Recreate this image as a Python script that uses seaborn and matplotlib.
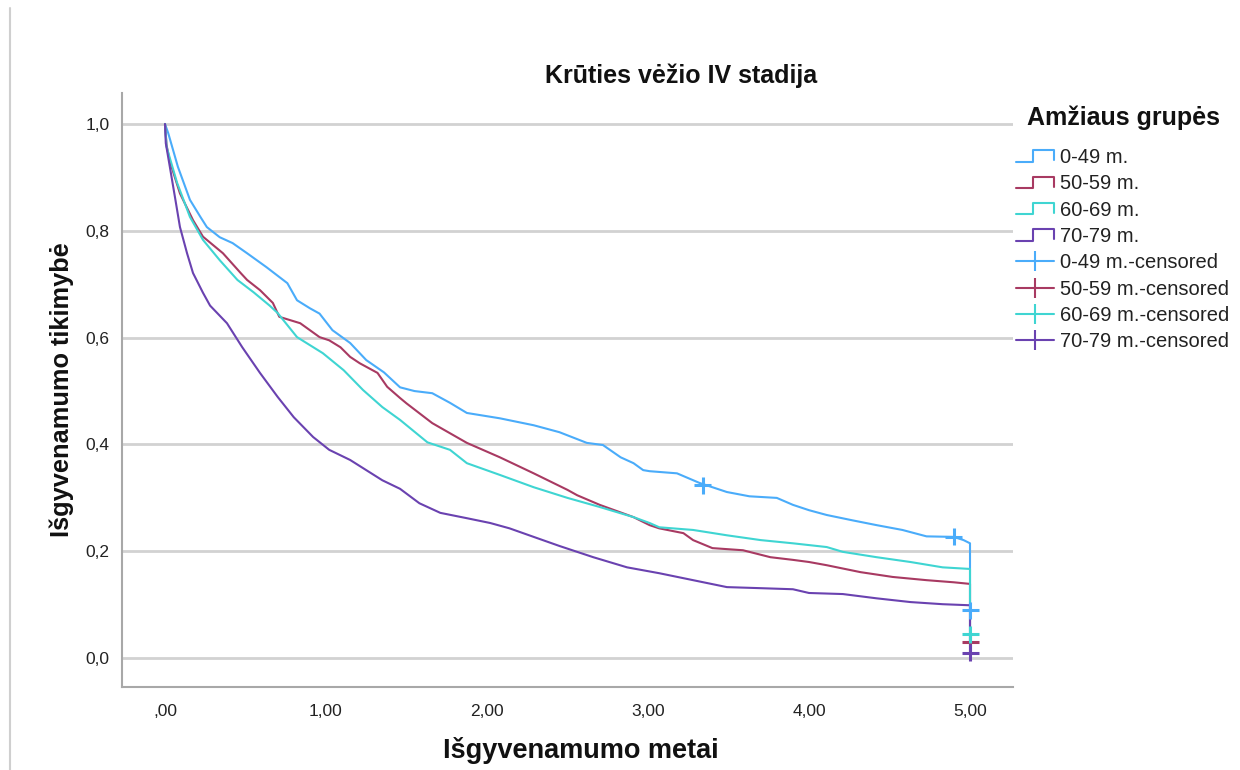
import matplotlib
matplotlib.use("Agg")
import matplotlib.pyplot as plt
import pandas as pd
import seaborn as sns
from matplotlib.lines import Line2D
from matplotlib.legend_handler import HandlerBase

# Kaplan-Meier survival estimates by age group (years, survival probability)
groups = ["0-49 m.", "50-59 m.", "60-69 m.", "70-79 m."]
colors = ["#4aacfa", "#a83a62", "#3fd5d2", "#6a42b0"]

t_0_49 = [0, 0.02, 0.08, 0.155, 0.22, 0.26, 0.34, 0.42, 0.51, 0.63, 0.76, 0.82, 0.90,
          0.96, 1.04, 1.15, 1.25, 1.36, 1.46, 1.55, 1.66, 1.77, 1.875, 2.08, 2.29,
          2.45, 2.62, 2.72, 2.83, 2.91, 2.97, 3.01, 3.18, 3.32, 3.49, 3.63, 3.80,
          3.90, 4.00, 4.11, 4.27, 4.42, 4.58, 4.73, 4.90, 4.96, 5.0, 5.0]
s_0_49 = [1.0, 0.983, 0.92, 0.858, 0.826, 0.807, 0.788, 0.777, 0.758, 0.732, 0.702, 0.670,
          0.655, 0.645, 0.614, 0.590, 0.558, 0.535, 0.507, 0.500, 0.496, 0.478, 0.459,
          0.449, 0.436, 0.423, 0.403, 0.399, 0.376, 0.365, 0.352, 0.350, 0.346, 0.328,
          0.311, 0.303, 0.300, 0.287, 0.277, 0.268, 0.258, 0.249, 0.240, 0.228, 0.227,
          0.221, 0.215, 0.09]

t_50_59 = [0, 0.01, 0.03, 0.093, 0.174, 0.236, 0.36, 0.47, 0.51, 0.59, 0.67, 0.71, 0.84,
           0.96, 1.02, 1.09, 1.15, 1.21, 1.32, 1.38, 1.46, 1.50, 1.66, 1.875, 2.08, 2.29,
           2.50, 2.56, 2.70, 2.91, 3.01, 3.07, 3.22, 3.28, 3.40, 3.59, 3.76, 3.90, 4.00,
           4.11, 4.32, 4.52, 4.73, 4.90, 5.0, 5.0]
s_50_59 = [1.0, 0.96, 0.93, 0.87, 0.82, 0.789, 0.758, 0.721, 0.708, 0.689, 0.665, 0.639,
           0.627, 0.601, 0.595, 0.582, 0.564, 0.552, 0.534, 0.508, 0.487, 0.477, 0.440,
           0.403, 0.376, 0.346, 0.315, 0.305, 0.287, 0.264, 0.249, 0.243, 0.234, 0.221,
           0.206, 0.202, 0.189, 0.184, 0.180, 0.174, 0.161, 0.152, 0.146, 0.142, 0.139,
           0.03]

t_60_69 = [0, 0.01, 0.075, 0.155, 0.236, 0.34, 0.45, 0.55, 0.65, 0.70, 0.82, 0.98, 1.11,
           1.23, 1.35, 1.46, 1.63, 1.77, 1.875, 2.08, 2.29, 2.50, 2.70, 2.91, 3.01, 3.07,
           3.28, 3.49, 3.70, 3.90, 4.11, 4.21, 4.42, 4.63, 4.83, 5.0, 5.0]
s_60_69 = [1.0, 0.957, 0.89, 0.826, 0.783, 0.745, 0.708, 0.685, 0.660, 0.646, 0.601, 0.571,
           0.539, 0.502, 0.470, 0.446, 0.404, 0.390, 0.365, 0.343, 0.320, 0.300, 0.283,
           0.264, 0.253, 0.245, 0.240, 0.230, 0.221, 0.215, 0.208, 0.199, 0.189, 0.180,
           0.170, 0.167, 0.045]

t_70_79 = [0, 0.005, 0.03, 0.062, 0.093, 0.137, 0.174, 0.236, 0.28, 0.385, 0.48, 0.59, 0.70,
           0.80, 0.92, 1.02, 1.15, 1.25, 1.35, 1.46, 1.58, 1.71, 1.875, 2.02, 2.14, 2.29,
           2.45, 2.66, 2.87, 3.07, 3.28, 3.49, 3.70, 3.90, 4.00, 4.21, 4.42, 4.63, 4.83,
           5.0, 5.0]
s_70_79 = [1.0, 0.964, 0.92, 0.863, 0.807, 0.758, 0.721, 0.684, 0.660, 0.627, 0.582, 0.534,
           0.489, 0.451, 0.414, 0.390, 0.371, 0.352, 0.333, 0.317, 0.290, 0.272, 0.262,
           0.253, 0.243, 0.227, 0.210, 0.189, 0.170, 0.159, 0.146, 0.133, 0.131, 0.129,
           0.122, 0.120, 0.112, 0.105, 0.101, 0.099, 0.01]

# censored observations
cens_group = ["0-49 m.", "0-49 m.", "0-49 m.", "50-59 m.", "60-69 m.", "70-79 m."]
cens_t = [3.34, 4.90, 5.0, 5.0, 5.0, 5.0]
cens_s = [0.324, 0.227, 0.09, 0.03, 0.045, 0.01]

x_ticks = [0, 1, 2, 3, 4, 5]
x_ticklabels = [",00", "1,00", "2,00", "3,00", "4,00", "5,00"]
y_ticks = [0.0, 0.2, 0.4, 0.6, 0.8, 1.0]
y_ticklabels = ["0,0", "0,2", "0,4", "0,6", "0,8", "1,0"]

curves = pd.concat([
    pd.DataFrame({"t": t, "s": s, "group": g})
    for g, t, s in zip(groups, [t_0_49, t_50_59, t_60_69, t_70_79],
                       [s_0_49, s_50_59, s_60_69, s_70_79])
], ignore_index=True)
censored = pd.DataFrame({"t": cens_t, "s": cens_s, "group": cens_group})

sns.set_style("white")
plt.rcParams["font.family"] = ["Liberation Sans", "DejaVu Sans"]

fig = plt.figure(figsize=(12.4, 7.7), dpi=100)
ax = fig.add_axes([122 / 1240, 1 - 687 / 770, 891 / 1240, 594 / 770])

palette = dict(zip(groups, colors))
sns.lineplot(data=curves, x="t", y="s", hue="group", hue_order=groups, palette=palette,
             estimator=None, sort=False, units="group", legend=False, linewidth=1.5, ax=ax)
sns.scatterplot(data=censored, x="t", y="s", hue="group", hue_order=groups, palette=palette,
                marker="+", s=150, linewidth=2.2, legend=False, ax=ax, zorder=5)

ax.set_xlim(-0.267, 5.267)
ax.set_ylim(-0.054, 1.058)
ax.set_xticks(x_ticks)
ax.set_xticklabels(x_ticklabels)
ax.set_yticks(y_ticks)
ax.set_yticklabels(y_ticklabels)
ax.tick_params(axis="both", length=0, labelsize=12.5, colors="#222222")
ax.tick_params(axis="y", pad=9)
ax.tick_params(axis="x", pad=12)

ax.yaxis.grid(True, color="#d2d2d2", linewidth=2)
ax.xaxis.grid(False)
ax.set_axisbelow(True)
for side in ["top", "right"]:
    ax.spines[side].set_visible(False)
for side in ["left", "bottom"]:
    ax.spines[side].set_color("#a8a8a8")
    ax.spines[side].set_linewidth(1.5)

ax.set_xlabel("Išgyvenamumo metai", fontsize=19.5, fontweight="bold", color="#111111")
ax.set_ylabel("Išgyvenamumo tikimybė", fontsize=18.3, fontweight="bold", color="#111111")
ax.xaxis.label.set_va("center")
ax.yaxis.label.set_va("center")
ax.xaxis.set_label_coords((581 - 122) / 891, -(750 - 687) / 594)
ax.yaxis.set_label_coords((62 - 122) / 891, 0.5)

ax.set_title("Krūties vėžio IV stadija", fontsize=18, fontweight="bold", color="#111111",
             x=(681 - 122) / 891, y=1 + (93 - 76) / 594, va="center", pad=0)


class StepHandler(HandlerBase):
    """Legend key drawn as a small survival step."""

    def create_artists(self, legend, orig_handle, xdescent, ydescent, width, height,
                       fontsize, trans):
        x0 = -xdescent
        lo = -ydescent + 0.1 * height
        hi = -ydescent + 0.9 * height
        xs = [x0, x0 + 0.45 * width, x0 + 0.45 * width, x0 + width, x0 + width]
        ys = [lo, lo, hi, hi, lo + 0.1 * height]
        line = Line2D(xs, ys, color=orig_handle.get_color(), linewidth=1.5, transform=trans)
        return [line]


step_handles = [Line2D([], [], color=c) for c in colors]
cens_handles = [Line2D([], [], color=c, linewidth=1.5, marker="|", markersize=15,
                       markeredgewidth=1.5) for c in colors]
labels = groups + [g + "-censored" for g in groups]
handler_map = {h: StepHandler() for h in step_handles}

fig.text(1027 / 1240, 1 - 118 / 770, "Amžiaus grupės", fontsize=18, fontweight="bold",
         color="#111111", ha="left", va="center")
leg = fig.legend(step_handles + cens_handles, labels, loc="upper left",
                 bbox_to_anchor=(1016 / 1240, 1 - 148 / 770), frameon=False,
                 fontsize=14.5, handlelength=1.9, handletextpad=0.3, labelspacing=0.365,
                 borderpad=0, borderaxespad=0, handler_map=handler_map)
for txt in leg.get_texts():
    txt.set_color("#222222")

# page edge rule at the left
fig.add_artist(Line2D([10 / 1240, 10 / 1240], [0, 1 - 8 / 770], transform=fig.transFigure,
                      color="#cfcfcf", linewidth=1.5))

fig.savefig("out.png", dpi=100, facecolor="white")
